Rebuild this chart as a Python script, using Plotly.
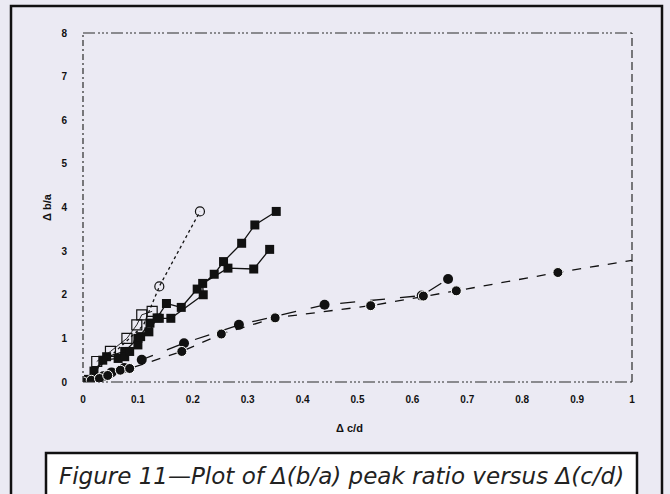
import plotly.graph_objects as go

# ---------------- data ----------------
# filled circles, series 1 (long-dash line)
c1_x = [0, 0.01, 0.02, 0.037, 0.052, 0.075, 0.107, 0.184, 0.284, 0.44, 0.617, 0.665]
c1_y = [0, 0.03, 0.06, 0.13, 0.22, 0.32, 0.51, 0.89, 1.31, 1.77, 1.98, 2.36]
# filled circles, series 2 (dashed line)
c2_x = [0, 0.015, 0.03, 0.045, 0.068, 0.085, 0.18, 0.252, 0.35, 0.524, 0.62, 0.68, 0.865, 1.0]
c2_y = [0, 0.04, 0.08, 0.15, 0.27, 0.31, 0.70, 1.10, 1.47, 1.75, 1.97, 2.09, 2.51, 2.79]
# filled squares, series 1
s1_x = [0, 0.005, 0.02, 0.036, 0.064, 0.076, 0.085, 0.10, 0.105, 0.12, 0.135, 0.152, 0.179, 0.208,
        0.239, 0.256, 0.289, 0.313, 0.352]
s1_y = [0, 0.03, 0.25, 0.50, 0.54, 0.58, 0.70, 0.85, 1.04, 1.15, 1.47, 1.80, 1.71, 2.13,
        2.47, 2.76, 3.18, 3.60, 3.91]
# filled squares, series 2
s2_x = [0, 0.01, 0.043, 0.076, 0.10, 0.122, 0.139, 0.16, 0.219, 0.218, 0.264, 0.311, 0.34]
s2_y = [0, 0.06, 0.58, 0.70, 1.00, 1.35, 1.46, 1.46, 2.00, 2.26, 2.61, 2.59, 3.04]
# open circles (dotted line)
oc_x = [0, 0.03, 0.06, 0.085, 0.11, 0.139, 0.213]
oc_y = [0, 0.35, 0.70, 1.00, 1.30, 2.19, 3.91]
# open squares (thin line)
os_x = [0.025, 0.05, 0.08, 0.098, 0.107, 0.126]
os_y = [0.47, 0.70, 1.00, 1.31, 1.54, 1.62]

x_ticks = [0, 0.1, 0.2, 0.3, 0.4, 0.5, 0.6, 0.7, 0.8, 0.9, 1]
x_tick_text = ["0", "0.1", "0.2", "0.3", "0.4", "0.5", "0.6", "0.7", "0.8", "0.9", "1"]
y_ticks = [0, 1, 2, 3, 4, 5, 6, 7, 8]

x_title = "Δ c/d"
y_title = "Δ b/a"
caption = "Figure 11—Plot of Δ(b/a) peak ratio versus Δ(c/d)"

# ---------------- layout geometry ----------------
W, H = 670, 494
L, R, T, B = 83, 38, 33, 112
PW, PH = W - L - R, H - T - B


def px_x(p):
    return (p - L) / PW


def px_y(p):
    return (H - B - p) / PH


INK = "#111111"
BG = "#EBEAF3"

fig = go.Figure()

fig.add_trace(go.Scatter(x=s2_x, y=s2_y, mode="lines+markers",
                         line=dict(color=INK, width=1.3),
                         marker=dict(symbol="square", size=9, color=INK, opacity=1)))
fig.add_trace(go.Scatter(x=s1_x, y=s1_y, mode="lines+markers",
                         line=dict(color=INK, width=1.3),
                         marker=dict(symbol="square", size=9, color=INK, opacity=1)))
fig.add_trace(go.Scatter(x=oc_x, y=oc_y, mode="lines+markers",
                         line=dict(color=INK, width=1.3, dash="dot"),
                         marker=dict(symbol="circle-open", size=[0] * (len(oc_x) - 2) + [9, 9],
                                     color=INK, opacity=1, line=dict(width=1.2))))
fig.add_trace(go.Scatter(x=os_x, y=os_y, mode="lines+markers",
                         line=dict(color=INK, width=0.9),
                         marker=dict(symbol="square-open", size=10, color=INK, opacity=1,
                                     line=dict(width=1.2))))
fig.add_trace(go.Scatter(x=c1_x, y=c1_y, mode="lines+markers",
                         line=dict(color=INK, width=1.3, dash="longdash"),
                         marker=dict(symbol="circle", size=10, color=INK, opacity=1)))
fig.add_trace(go.Scatter(x=c2_x, y=c2_y, mode="lines+markers",
                         line=dict(color=INK, width=1.3, dash="dash"),
                         marker=dict(symbol="circle", size=[10] * (len(c2_x) - 1) + [0],
                                     color=INK, opacity=1)))

shapes = []
frame_col = "#2a2a2a"
shapes.append(dict(type="line", xref="paper", yref="paper", x0=0, x1=1, y0=1, y1=1,
                   line=dict(color=frame_col, width=1.2, dash="12px,3px,2px,2px,2px,2px,2px,3px")))
shapes.append(dict(type="line", xref="paper", yref="paper", x0=0, x1=1, y0=0, y1=0,
                   line=dict(color=frame_col, width=1.2, dash="12px,3px,2px,2px,2px,2px,2px,3px")))
shapes.append(dict(type="line", xref="paper", yref="paper", x0=0, x1=0, y0=0, y1=1,
                   line=dict(color=frame_col, width=1.2, dash="6px,3px,2px,3px")))
shapes.append(dict(type="line", xref="paper", yref="paper", x0=1, x1=1, y0=0, y1=1,
                   line=dict(color=frame_col, width=1.2, dash="8px,4px")))
# caption box
shapes.append(dict(type="rect", xref="paper", yref="paper",
                   x0=px_x(46), x1=px_x(637), y0=px_y(H + 5), y1=px_y(453),
                   line=dict(color="#111111", width=2.5), fillcolor="white", layer="above"))
# outer border of the figure
shapes.append(dict(type="rect", xref="paper", yref="paper",
                   x0=px_x(11), x1=px_x(662), y0=px_y(H + 5), y1=px_y(6),
                   line=dict(color="#111111", width=2.5), fillcolor="rgba(0,0,0,0)", layer="above"))

annotations = [
    dict(text=x_title, xref="paper", yref="paper", x=px_x(349), y=px_y(428),
         showarrow=False, xanchor="center", yanchor="middle",
         font=dict(family="Liberation Sans", size=11, color=INK, weight="bold")),
    dict(text=y_title, xref="paper", yref="paper", x=px_x(47), y=px_y(207),
         showarrow=False, xanchor="center", yanchor="middle", textangle=-90,
         font=dict(family="Liberation Sans", size=11, color=INK, weight="bold")),
    dict(text=caption, xref="paper", yref="paper", x=px_x(341), y=px_y(476),
         showarrow=False, xanchor="center", yanchor="middle",
         font=dict(family="DejaVu Sans", size=23, color="#222222", style="italic", weight=200)),
]

fig.update_layout(
    width=W, height=H,
    margin=dict(l=L, r=R, t=T, b=B, pad=0),
    paper_bgcolor=BG, plot_bgcolor=BG,
    showlegend=False,
    shapes=shapes,
    annotations=annotations,
    xaxis=dict(range=[0, 1], tickvals=x_ticks, ticktext=x_tick_text, showgrid=False,
               zeroline=False, showline=False, ticks="", ticklabelstandoff=10,
               tickfont=dict(family="Liberation Sans", size=10, color=INK, weight="bold")),
    yaxis=dict(range=[0, 8], tickvals=y_ticks, showgrid=False, zeroline=False,
               showline=False, ticks="", ticklabelstandoff=15,
               tickfont=dict(family="Liberation Sans", size=10, color=INK, weight="bold")),
)

fig.write_html("out.html")
